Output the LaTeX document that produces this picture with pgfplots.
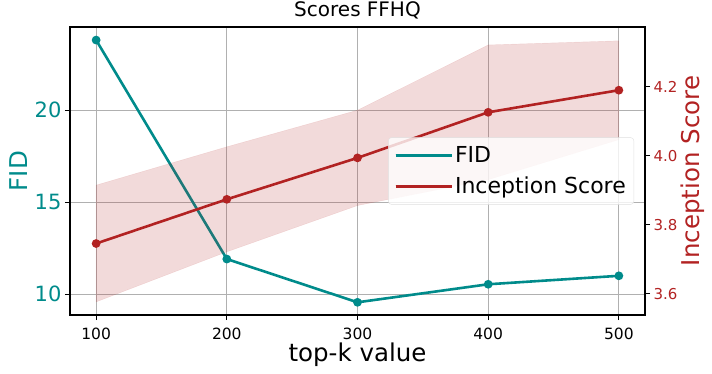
\documentclass[border=0pt]{standalone}
\usepackage{fontspec}
\setmainfont{DejaVu Sans}
\usepackage{pgfplots}
\pgfplotsset{compat=1.18}
\definecolor{fidc}{RGB}{0,139,139}
\definecolor{isc}{RGB}{178,34,34}
\definecolor{gridc}{RGB}{176,176,176}

\begin{document}
\begin{tikzpicture}[x=1pt,y=1pt]
\useasboundingbox (0,0) rectangle (712,373);
% left axis: FID
\begin{axis}[
  at={(70pt,58pt)}, anchor=south west,
  scale only axis, width=575pt, height=288pt,
  xmin=80, xmax=520, ymin=8.86, ymax=24.51,
  xtick={100,200,300,400,500}, ytick={10,15,20},
  xtick pos=bottom, ytick pos=left, tick align=outside,
  major tick length=5pt,
  tick style={black, line width=0.9pt},
  axis line style={line width=1.8pt},
  grid=major, grid style={gridc, line width=0.8pt},
  /pgf/number format/assume math mode=true,
  x tick label style={font=\fontsize{15.5}{17}\selectfont, black, yshift=-4pt},
  y tick label style={font=\fontsize{21}{23}\selectfont, fidc},
  title={Scores FFHQ},
  title style={font=\fontsize{20}{22}\selectfont, at={(axis description cs:0.5,1)}, anchor=south, yshift=0pt, inner sep=2pt},
  xlabel={top-k value},
  xlabel style={font=\fontsize{24.5}{27}\selectfont, at={(axis description cs:0.5,-0.097)}, anchor=north, inner sep=0pt},
  ylabel={FID},
  ylabel style={font=\fontsize{24.5}{27}\selectfont, fidc, at={(axis description cs:-0.0887,0.5)}, anchor=center},
]
\addplot[fidc, line width=2.6pt, mark=*, mark size=3pt] coordinates {
  (100,23.80) (200,11.90) (300,9.55) (400,10.53) (500,10.99)
};
\end{axis}
% right axis: Inception Score
\begin{axis}[
  at={(70pt,58pt)}, anchor=south west,
  scale only axis, width=575pt, height=288pt,
  xmin=80, xmax=520, ymin=3.539, ymax=4.373,
  axis x line=none, axis y line*=right,
  ytick={3.6,3.8,4.0,4.2}, ytick pos=right, tick align=outside,
  major tick length=5pt,
  tick style={black, line width=0.9pt},
  axis line style={-, line width=1.8pt},
  /pgf/number format/assume math mode=true,
  y tick label style={font=\fontsize{15}{17}\selectfont, isc,
    /pgf/number format/fixed, /pgf/number format/fixed zerofill,
    /pgf/number format/precision=1},
  every axis y label/.style={at={(axis description cs:1.0835,0.5)}, rotate=90, anchor=center,
    font=\fontsize{24.5}{27}\selectfont, isc},
  ylabel={Inception Score},
  legend style={at={(axis description cs:1,0.5)}, anchor=east, xshift=-11pt,
    fill=white, fill opacity=0.8, text opacity=1, draw=gray!25, rounded corners=3pt,
    font=\fontsize{22}{25}\selectfont, inner xsep=6pt, inner ysep=7pt,
    row sep=9pt},
  legend cell align=left,
  legend image code/.code={\draw[#1] (0pt,0pt) -- (47pt,0pt); \path (0pt,0pt) -- (56pt,0pt);},
]
\addlegendimage{fidc, line width=2.6pt}
\addlegendentry{FID}
\addlegendimage{isc, line width=2.6pt}
\addlegendentry{Inception Score}
\addplot[forget plot, fill=isc, fill opacity=0.17, draw=isc, draw opacity=0.12] coordinates {
  (100,3.915) (200,4.026) (300,4.132) (400,4.321) (500,4.333)
  (500,4.047) (400,3.931) (300,3.856) (200,3.722) (100,3.577)
} -- cycle;
\addplot[forget plot, isc, line width=2.6pt, mark=*, mark size=3pt] coordinates {
  (100,3.746) (200,3.874) (300,3.994) (400,4.126) (500,4.190)
};
\end{axis}
\end{tikzpicture}
\end{document}
